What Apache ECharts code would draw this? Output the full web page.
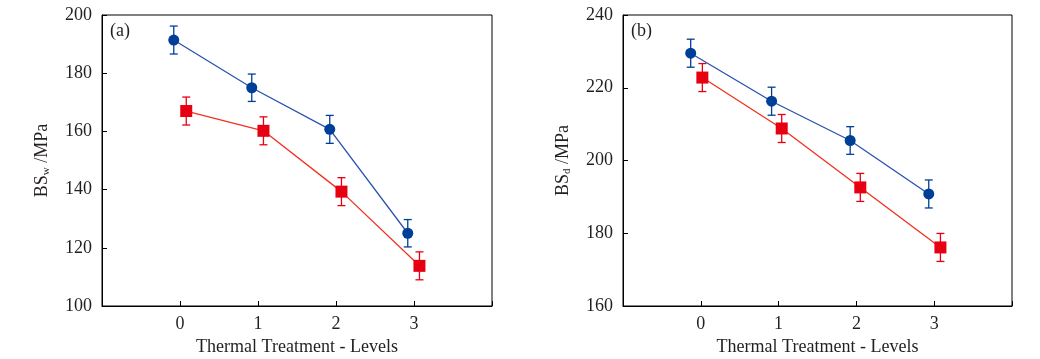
<!DOCTYPE html>
<html><head><meta charset="utf-8">
<script src="https://cdn.jsdelivr.net/npm/echarts@6/dist/echarts.min.js"></script>
<style>html,body{margin:0;padding:0;background:#fff}#c{width:1040px;height:359px}</style>
</head><body><div id="c"></div>
<script>
// ---- data ----
const levels = [0, 1, 2, 3];
const xTickLabels = ['0', '1', '2', '3'];
// panel (a) BSw
const aBlueX = [-0.08, 0.92, 1.92, 2.92];
const aBlueY = [191.4, 175.0, 160.7, 125.0];
const aBlueErr = [4.8, 4.7, 4.8, 4.7];
const aRedX = [0.08, 1.07, 2.07, 3.07];
const aRedY = [167.0, 160.2, 139.3, 113.8];
const aRedErr = [4.8, 4.8, 4.8, 4.8];
// panel (b) BSd
const bBlueX = [-0.13, 0.91, 1.92, 2.93];
const bBlueY = [229.5, 216.3, 205.5, 190.8];
const bBlueErr = [3.85, 3.85, 3.8, 3.85];
const bRedX = [0.02, 1.04, 2.05, 3.08];
const bRedY = [222.8, 208.8, 192.6, 176.1];
const bRedErr = [3.85, 3.85, 3.85, 3.85];

const FONT = '"Liberation Serif", "DejaVu Serif", serif';
const TXT = '#231f20';
const BLUE = '#003f98', BLUE_L = '#2a52b0';
const RED = '#e60012', RED_L = '#f0321e';

function pts(xs, ys) { return xs.map((x, i) => [x, ys[i]]); }
function errPts(xs, ys, es) { return xs.map((x, i) => [x, ys[i], es[i]]); }

function errSeries(idx, xs, ys, es, color) {
  return {
    type: 'custom', xAxisIndex: idx, yAxisIndex: idx, z: 2,
    data: errPts(xs, ys, es),
    renderItem: function (params, api) {
      const x = api.value(0), y = api.value(1), e = api.value(2);
      const top = api.coord([x, y + e]);
      const bot = api.coord([x, y - e]);
      const hw = 4;
      const st = { stroke: color, lineWidth: 1.3 };
      return { type: 'group', children: [
        { type: 'line', shape: { x1: top[0], y1: top[1], x2: bot[0], y2: bot[1] }, style: st },
        { type: 'line', shape: { x1: top[0] - hw, y1: top[1], x2: top[0] + hw, y2: top[1] }, style: st },
        { type: 'line', shape: { x1: bot[0] - hw, y1: bot[1], x2: bot[0] + hw, y2: bot[1] }, style: st }
      ]};
    }
  };
}
function lineSeries(idx, xs, ys, symbol, size, color, lcolor) {
  return {
    type: 'line', xAxisIndex: idx, yAxisIndex: idx, z: 3,
    data: pts(xs, ys), symbol: symbol, symbolSize: size, showSymbol: true,
    itemStyle: { color: color, opacity: 1 },
    lineStyle: { color: lcolor, width: 1.3 },
    animation: false
  };
}
function xAxis(idx) {
  return {
    type: 'value', gridIndex: idx, min: -1, max: 4, interval: 1,
    name: 'Thermal Treatment - Levels', nameLocation: 'middle', nameGap: 32,
    nameTextStyle: { fontFamily: FONT, fontSize: 18, color: TXT },
    axisLine: { show: true, onZero: false, lineStyle: { color: '#000', width: 1 } },
    axisTick: { show: true, inside: true, length: 5, lineStyle: { color: '#000' } },
    axisLabel: { fontFamily: FONT, fontSize: 18, color: TXT, margin: 9,
      formatter: v => (levels.indexOf(v) >= 0 ? xTickLabels[levels.indexOf(v)] : '') },
    splitLine: { show: false }
  };
}
function yAxis(idx, min, max, sub) {
  return {
    type: 'value', gridIndex: idx, min: min, max: max, interval: 20,
    name: '{a|BS}{s|' + sub + '}{a| /MPa}', nameLocation: 'middle', nameRotate: 90, nameGap: 50,
    nameTextStyle: { fontFamily: FONT, fontSize: 18, color: TXT,
      rich: { a: { fontFamily: FONT, fontSize: 18, color: TXT },
              s: { fontFamily: FONT, fontSize: 11, color: TXT, padding: [9, 0, 0, 0] } } },
    axisLine: { show: true, onZero: false, lineStyle: { color: '#000', width: 1 } },
    axisTick: { show: true, inside: true, length: 5, lineStyle: { color: '#000' } },
    axisLabel: { fontFamily: FONT, fontSize: 18, color: TXT, margin: 10 },
    splitLine: { show: false }
  };
}

const chart = echarts.init(document.getElementById('c'), null, { renderer: 'canvas' });
chart.setOption({
  animation: false,
  backgroundColor: '#fff',
  grid: [
    { left: 102, top: 15, width: 390, height: 291, show: true, borderColor: '#000', borderWidth: 1, backgroundColor: 'transparent', outerBoundsMode: 'none', containLabel: false },
    { left: 623, top: 15, width: 389, height: 291, show: true, borderColor: '#000', borderWidth: 1, backgroundColor: 'transparent', outerBoundsMode: 'none', containLabel: false }
  ],
  title: [
    { text: '(a)', left: 110, top: 22, padding: 0, textStyle: { fontFamily: FONT, fontSize: 18, fontWeight: 'normal', color: TXT } },
    { text: '(b)', left: 631, top: 22, padding: 0, textStyle: { fontFamily: FONT, fontSize: 18, fontWeight: 'normal', color: TXT } }
  ],
  xAxis: [xAxis(0), xAxis(1)],
  yAxis: [yAxis(0, 100, 200, 'w'), yAxis(1, 160, 240, 'd')],
  series: [
    errSeries(0, aBlueX, aBlueY, aBlueErr, BLUE),
    errSeries(0, aRedX, aRedY, aRedErr, RED),
    lineSeries(0, aBlueX, aBlueY, 'circle', 11, BLUE, BLUE_L),
    lineSeries(0, aRedX, aRedY, 'rect', 12, RED, RED_L),
    errSeries(1, bBlueX, bBlueY, bBlueErr, BLUE),
    errSeries(1, bRedX, bRedY, bRedErr, RED),
    lineSeries(1, bBlueX, bBlueY, 'circle', 11, BLUE, BLUE_L),
    lineSeries(1, bRedX, bRedY, 'rect', 12, RED, RED_L)
  ]
});
</script></body></html>
